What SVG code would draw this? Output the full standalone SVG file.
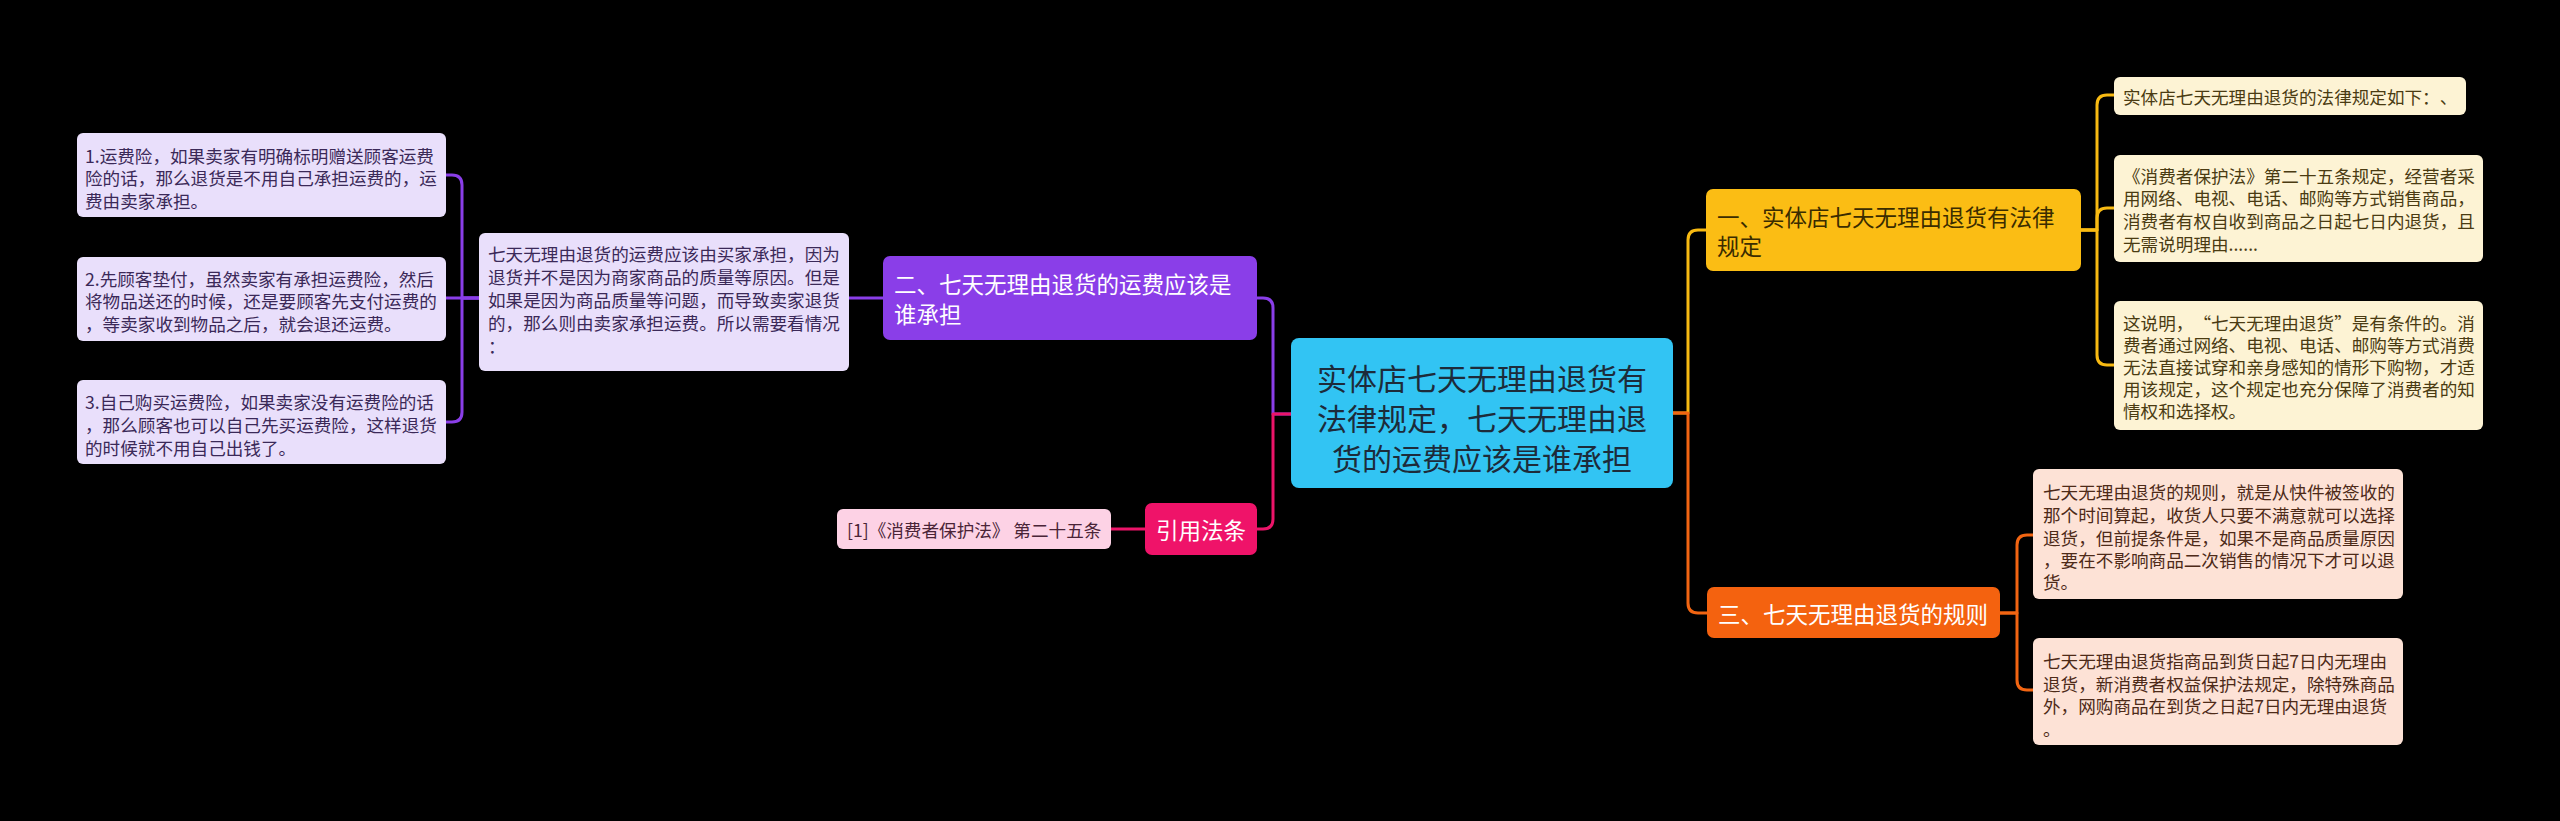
<svg xmlns="http://www.w3.org/2000/svg" width="2560" height="821" viewBox="0 0 2560 821">
<style>
text{font-family:"Noto Sans CJK SC","Noto Sans",sans-serif;dominant-baseline:central;text-spacing-trim:space-all}
.s{font-size:17.6px}
.m{font-size:22.5px}
.c{fill:none;stroke-width:3;stroke-linecap:round;stroke-linejoin:round}
.lav{fill:#e9dffb}
.lavt{fill:#3b2958}
.cr{fill:#fdf3d4}
.crt{fill:#4a3b12}
.pe{fill:#fde2d6}
.pet{fill:#4d2a18}
</style>
<rect x="0" y="0" width="2560" height="821" fill="#000"/>
<g id="connectors">
<path class="c" stroke="#8a3ee8" d="M1291 414 H1273 V308 Q1273 298 1263 298 H1257"/>
<path class="c" stroke="#8a3ee8" d="M883 298 H849"/>
<path class="c" stroke="#8a3ee8" d="M479 298 H462 V185 Q462 175 452 175 H446"/>
<path class="c" stroke="#8a3ee8" d="M479 298 H446"/>
<path class="c" stroke="#8a3ee8" d="M479 298 H462 V412 Q462 422 452 422 H446"/>
<path class="c" stroke="#ec1469" d="M1291 414 H1273 V519 Q1273 529 1263 529 H1257"/>
<path class="c" stroke="#ec1469" d="M1145 529 H1111"/>
<path class="c" stroke="#f8ba12" d="M1673 413 H1688 V240 Q1688 230 1698 230 H1706"/>
<path class="c" stroke="#f8ba12" d="M2081 230 H2097 V105 Q2097 95 2107 95 H2114"/>
<path class="c" stroke="#f8ba12" d="M2081 230 H2097 V218 Q2097 208 2107 208 H2114"/>
<path class="c" stroke="#f8ba12" d="M2081 230 H2097 V355 Q2097 365 2107 365 H2114"/>
<path class="c" stroke="#f26512" d="M1673 413 H1688 V603 Q1688 613 1698 613 H1707"/>
<path class="c" stroke="#f26512" d="M2000 613 H2017 V545 Q2017 535 2027 535 H2033"/>
<path class="c" stroke="#f26512" d="M2000 613 H2017 V680 Q2017 690 2027 690 H2033"/>
</g>
<g id="center">
<rect x="1291" y="338" width="382" height="150" rx="8" fill="#32c4f3"/>
<text x="1482" y="377" text-anchor="middle" font-size="30" fill="#1d2b3a">实体店七天无理由退货有</text>
<text x="1482" y="417" text-anchor="middle" font-size="30" fill="#1d2b3a">法律规定，七天无理由退</text>
<text x="1482" y="457" text-anchor="middle" font-size="30" fill="#1d2b3a">货的运费应该是谁承担</text>
</g>
<g id="branch1">
<rect x="1706" y="189" width="375" height="82" rx="7" fill="#fbbd14"/>
<text class="m" x="1717" y="216" fill="#3a2c00">一、实体店七天无理由退货有法律</text>
<text class="m" x="1717" y="245" fill="#3a2c00">规定</text>
</g>
<g id="b1c1">
<rect x="2114" y="77" width="352" height="38" rx="6" class="cr"/>
<text class="s crt" x="2123" y="96">实体店七天无理由退货的法律规定如下：、</text>
</g>
<g id="b1c2">
<rect x="2114" y="155" width="369" height="107" rx="6" class="cr"/>
<text class="s crt" x="2123" y="175">《消费者保护法》第二十五条规定，经营者采</text>
<text class="s crt" x="2123" y="197">用网络、电视、电话、邮购等方式销售商品，</text>
<text class="s crt" x="2123" y="220">消费者有权自收到商品之日起七日内退货，且</text>
<text class="s crt" x="2123" y="243">无需说明理由......</text>
</g>
<g id="b1c3">
<rect x="2114" y="301" width="369" height="129" rx="6" class="cr"/>
<text class="s crt" x="2123" y="322">这说明，“七天无理由退货”是有条件的。消</text>
<text class="s crt" x="2123" y="344">费者通过网络、电视、电话、邮购等方式消费</text>
<text class="s crt" x="2123" y="366">无法直接试穿和亲身感知的情形下购物，才适</text>
<text class="s crt" x="2123" y="388">用该规定，这个规定也充分保障了消费者的知</text>
<text class="s crt" x="2123" y="410">情权和选择权。</text>
</g>
<g id="branch3">
<rect x="1707" y="587" width="293" height="51" rx="7" fill="#f4620f"/>
<text class="m" x="1718" y="613" fill="#fff">三、七天无理由退货的规则</text>
</g>
<g id="b3c1">
<rect x="2033" y="469" width="370" height="130" rx="6" class="pe"/>
<text class="s pet" x="2043" y="491">七天无理由退货的规则，就是从快件被签收的</text>
<text class="s pet" x="2043" y="514">那个时间算起，收货人只要不满意就可以选择</text>
<text class="s pet" x="2043" y="537">退货，但前提条件是，如果不是商品质量原因</text>
<text class="s pet" x="2043" y="559">，要在不影响商品二次销售的情况下才可以退</text>
<text class="s pet" x="2043" y="581">货。</text>
</g>
<g id="b3c2">
<rect x="2033" y="638" width="370" height="107" rx="6" class="pe"/>
<text class="s pet" x="2043" y="660">七天无理由退货指商品到货日起7日内无理由</text>
<text class="s pet" x="2043" y="683">退货，新消费者权益保护法规定，除特殊商品</text>
<text class="s pet" x="2043" y="705">外，网购商品在到货之日起7日内无理由退货</text>
<text class="s pet" x="2043" y="728">。</text>
</g>
<g id="branch2">
<rect x="883" y="256" width="374" height="84" rx="7" fill="#8a3ee8"/>
<text class="m" x="894" y="283" fill="#fff">二、七天无理由退货的运费应该是</text>
<text class="m" x="894" y="313" fill="#fff">谁承担</text>
</g>
<g id="b2c1">
<rect x="479" y="233" width="370" height="138" rx="6" class="lav"/>
<text class="s lavt" x="488" y="253">七天无理由退货的运费应该由买家承担，因为</text>
<text class="s lavt" x="488" y="276">退货并不是因为商家商品的质量等原因。但是</text>
<text class="s lavt" x="488" y="299">如果是因为商品质量等问题，而导致卖家退货</text>
<text class="s lavt" x="488" y="322">的，那么则由卖家承担运费。所以需要看情况</text>
<text class="s lavt" x="488" y="345">：</text>
</g>
<g id="b2c1c1">
<rect x="77" y="133" width="369" height="84" rx="6" class="lav"/>
<text class="s lavt" x="85" y="155">1.运费险，如果卖家有明确标明赠送顾客运费</text>
<text class="s lavt" x="85" y="177">险的话，那么退货是不用自己承担运费的，运</text>
<text class="s lavt" x="85" y="200">费由卖家承担。</text>
</g>
<g id="b2c1c2">
<rect x="77" y="257" width="369" height="84" rx="6" class="lav"/>
<text class="s lavt" x="85" y="278">2.先顾客垫付，虽然卖家有承担运费险，然后</text>
<text class="s lavt" x="85" y="300">将物品送还的时候，还是要顾客先支付运费的</text>
<text class="s lavt" x="85" y="323">，等卖家收到物品之后，就会退还运费。</text>
</g>
<g id="b2c1c3">
<rect x="77" y="380" width="369" height="84" rx="6" class="lav"/>
<text class="s lavt" x="85" y="401">3.自己购买运费险，如果卖家没有运费险的话</text>
<text class="s lavt" x="85" y="424">，那么顾客也可以自己先买运费险，这样退货</text>
<text class="s lavt" x="85" y="447">的时候就不用自己出钱了。</text>
</g>
<g id="cite">
<rect x="1145" y="503" width="112" height="52" rx="7" fill="#ef1369"/>
<text class="m" x="1201" y="529" text-anchor="middle" fill="#fff">引用法条</text>
</g>
<g id="cite1">
<rect x="837" y="509" width="274" height="40" rx="6" fill="#fdd2e5"/>
<text x="847" y="529" font-size="17.6" fill="#4a2437">[1]《消费者保护法》 第二十五条</text>
</g>
</svg>
